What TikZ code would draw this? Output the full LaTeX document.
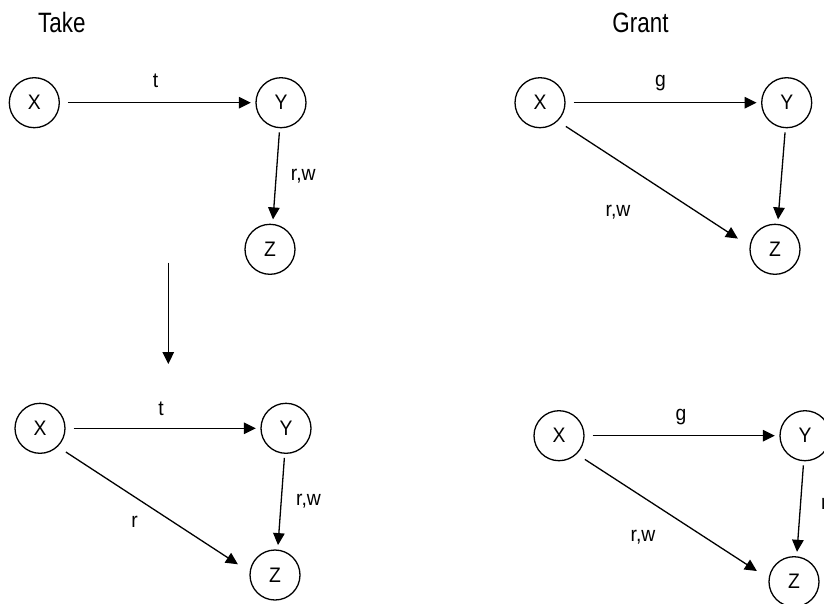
\documentclass[tikz,border=0pt]{standalone}
\usepackage{fontspec}
\setmainfont{Liberation Sans}
\newfontfamily\titlefont{Liberation Sans}[FakeStretch=0.8]
\newfontfamily\lblfont{Liberation Sans}[FakeStretch=0.92]
\usetikzlibrary{arrows.meta}
\tikzset{
  st/.style={draw, circle, minimum size=50pt, inner sep=0pt, line width=1.3pt,
    font=\lblfont\fontsize{21}{24}\selectfont},
  arr/.style={line width=1.3pt, -{Triangle[length=12pt,width=11.5pt]}},
  hor/.style={arr, shorten <=8pt, shorten >=4.5pt},
  ver/.style={arr, shorten <=4pt, shorten >=4.4pt},
  diag/.style={arr, shorten <=9.6pt, shorten >=13.9pt},
  lbl/.style={inner sep=0pt, font=\lblfont\fontsize{21}{24}\selectfont},
  ttl/.style={inner sep=0pt, font=\titlefont\fontsize{28}{32}\selectfont},
}
\begin{document}
\begin{tikzpicture}[x=1pt, y=-1pt]
\useasboundingbox (0,0) rectangle (824,603);
\clip (0,0) rectangle (824,603);
% titles
\node[ttl, anchor=base west] (take) at (38,32) {Take};
\node[ttl, anchor=base] (grant) at (640.5,32) {Grant};
% panel 1 (top left)
\node[st] (X1) at (34.3,102.7) {X};
\node[st] (Y1) at (281,102.7) {Y};
\node[st] (Z1) at (270,249.3) {Z};
\draw[hor] (X1) -- (Y1);
\draw[ver] (Y1.-93.2) -- (Z1.84.6);
\node[lbl, anchor=base] (t1) at (155.5,87.8) {t};
\node[lbl, anchor=base west] (rw1) at (290.7,180.7) {r,w};
% transition arrow
\coordinate (a1) at (168.3,262.7);
\coordinate (a2) at (168.3,364);
\draw[arr] (a1) -- (a2);
% panel 2 (bottom left)
\node[st] (X2) at (40,428.3) {X};
\node[st] (Y2) at (286,428.3) {Y};
\node[st] (Z2) at (275,575) {Z};
\draw[hor] (X2) -- (Y2);
\draw[ver] (Y2.-93.2) -- (Z2.84.6);
\draw[diag] (X2.-46.3) -- (Z2.173.3);
\node[lbl, anchor=base] (t2) at (161,415) {t};
\node[lbl, anchor=base west] (rw2) at (296,505) {r,w};
\node[lbl, anchor=base] (r2) at (134.5,527.7) {r};
% panel 3 (top right)
\node[st] (X3) at (540,102.7) {X};
\node[st] (Y3) at (786.7,102.7) {Y};
\node[st] (Z3) at (775,249.3) {Z};
\draw[hor] (X3) -- (Y3);
\draw[ver] (Y3.-93.2) -- (Z3.84.6);
\draw[diag] (X3.-46.3) -- (Z3.173.3);
\node[lbl, anchor=base] (g3) at (660.5,86) {g};
\node[lbl, anchor=base west] (rw3) at (605.5,216.5) {r,w};
% panel 4 (bottom right)
\node[st] (X4) at (559,435.7) {X};
\node[st] (Y4) at (805,435.7) {Y};
\node[st] (Z4) at (794,581.7) {Z};
\draw[hor] (X4) -- (Y4);
\draw[ver] (Y4.-93.2) -- (Z4.84.6);
\draw[diag] (X4.-46.3) -- (Z4.173.3);
\node[lbl, anchor=base] (g4) at (681,420) {g};
\node[lbl, anchor=base west] (rw4) at (630.5,541) {r,w};
\node[lbl, anchor=base west] (rw4b) at (821,509) {r,w};
\end{tikzpicture}
\end{document}
